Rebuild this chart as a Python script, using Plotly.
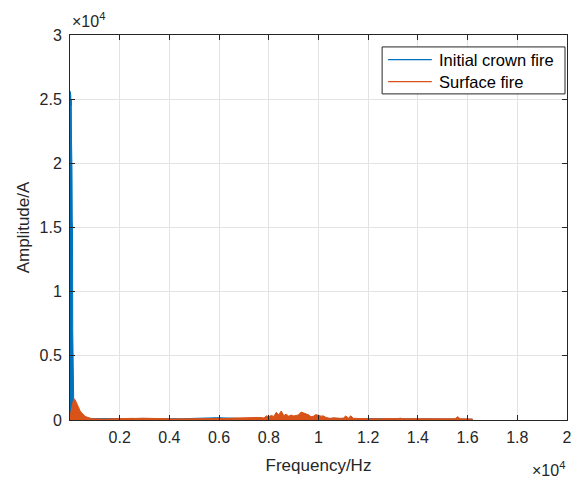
import plotly.graph_objects as go

# ---------------- data ----------------
# Initial crown fire: fine bins near 0 Hz (10 Hz spacing), then coarse bins
crown_freq_fine = list(range(0, 210, 10))
crown_amp_fine = [18000, 25600, 24800, 25300, 24500, 25000, 21800, 21000, 19500, 15500,
                  15000, 7000, 3100, 2400, 1800, 1300, 1000, 750, 550, 400, 300]
crown_freq_coarse = [300, 500, 1000, 1500, 2000, 2500, 3000, 3500, 4000, 4500, 5000, 5300,
                     5600, 5900, 6200, 6500, 7000, 7500, 8000, 9000, 10000, 11000,
                     12000, 13000, 14000, 15000, 16000, 16200]
crown_amp_coarse = [200, 150, 110, 100, 110, 120, 120, 110, 100, 100, 150, 170,
                    160, 180, 150, 120, 120, 130, 150, 150, 130, 110,
                    90, 80, 80, 80, 70, 60]

# Surface fire: 50 Hz bins up to 1 kHz, 100 Hz bins up to 16.2 kHz
surf_freq_low = list(range(0, 1000, 50))
surf_amp_low = [300, 800, 1300, 1650, 1600, 1350, 1100, 950, 750, 600,
                480, 380, 300, 250, 200, 160, 130, 110, 100, 90]
surf_freq_high = list(range(1000, 16300, 100))
surf_amp_high = [
    # 1000-1900
    80, 75, 70, 75, 70, 80, 75, 80, 90, 85,
    # 2000-2900
    100, 110, 130, 120, 140, 130, 120, 150, 130, 140,
    # 3000-3900
    140, 130, 150, 120, 140, 130, 120, 130, 110, 100,
    # 4000-4900
    80, 80, 85, 80, 75, 80, 90, 85, 80, 85,
    # 5000-5900
    90, 100, 95, 100, 110, 100, 90, 110, 100, 110,
    # 6000-6900
    110, 120, 110, 130, 120, 140, 150, 140, 160, 150,
    # 7000-7900
    170, 160, 180, 170, 190, 180, 200, 190, 150, 320,
    # 8000-8900
    260, 350, 280, 600, 400, 700, 350, 450, 300, 380,
    # 9000-9900
    320, 350, 400, 620, 550, 450, 400, 250, 300, 420,
    # 10000-10900
    350, 300, 320, 200, 150, 120, 180, 150, 130, 120,
    # 11000-11900
    150, 320, 140, 330, 130, 120, 140, 110, 120, 100,
    # 12000-12900
    100, 110, 90, 100, 120, 90, 100, 110, 90, 100,
    # 13000-13900
    110, 90, 100, 140, 90, 100, 90, 110, 90, 100,
    # 14000-14900
    90, 100, 110, 90, 100, 90, 100, 90, 110, 90,
    # 15000-15900
    100, 90, 100, 110, 90, 100, 260, 100, 90, 100,
    # 16000-16200
    90, 80, 70,
]

crown_freq = crown_freq_fine + crown_freq_coarse
crown_amp = crown_amp_fine + crown_amp_coarse
surf_freq = surf_freq_low + surf_freq_high
surf_amp = surf_amp_low + surf_amp_high

series_names = ["Initial crown fire", "Surface fire"]
x_tick_vals = [2000, 4000, 6000, 8000, 10000, 12000, 14000, 16000, 18000, 20000]
x_tick_text = ["0.2", "0.4", "0.6", "0.8", "1", "1.2", "1.4", "1.6", "1.8", "2"]
y_tick_vals = [0, 5000, 10000, 15000, 20000, 25000, 30000]
y_tick_text = ["0", "0.5", "1", "1.5", "2", "2.5", "3"]

BLUE = "#0072BD"
ORANGE = "#D95319"
AXC = "#262626"
FONT = "Liberation Sans, Arial, sans-serif"
FS = 16

fig = go.Figure()
fig.add_trace(go.Scatter(x=crown_freq, y=crown_amp, mode="lines", fill="tozeroy",
                         name=series_names[0],
                         line=dict(color=BLUE, width=1), fillcolor=BLUE,
                         showlegend=False, hoverinfo="skip"))
fig.add_trace(go.Scatter(x=surf_freq, y=surf_amp, mode="lines", fill="tozeroy",
                         name=series_names[1],
                         line=dict(color=ORANGE, width=1), fillcolor=ORANGE,
                         showlegend=False, hoverinfo="skip"))

axis_common = dict(showline=True, linecolor=AXC, linewidth=1, mirror="ticks",
                   ticks="inside", ticklen=5, tickcolor=AXC, showgrid=True,
                   gridcolor="#e3e3e3", gridwidth=1, zeroline=False,
                   ticklabeloverflow="allow", automargin=False,
                   tickfont=dict(family=FONT, size=FS, color=AXC))

# legend drawn as a box with sample lines and text (paper coordinates)
leg_box = dict(x0=0.628, x1=0.996, y0=0.847, y1=0.969)
leg_rows_y = [0.936, 0.879]
leg_line_x = [0.640, 0.728]
leg_text_x = 0.738
leg_colors = [BLUE, ORANGE]

shapes = [dict(type="rect", xref="paper", yref="paper", **leg_box,
               line=dict(color=AXC, width=1), fillcolor="white", layer="above")]
annotations = []
for name, col, yy in zip(series_names, leg_colors, leg_rows_y):
    shapes.append(dict(type="line", xref="paper", yref="paper",
                       x0=leg_line_x[0], x1=leg_line_x[1], y0=yy, y1=yy,
                       line=dict(color=col, width=1.3), layer="above"))
    annotations.append(dict(text=name, xref="paper", yref="paper", x=leg_text_x, y=yy,
                            xanchor="left", yanchor="middle", showarrow=False,
                            font=dict(family=FONT, size=16.5, color="black")))

annotations += [
    dict(text="×10<sup>4</sup>", xref="paper", yref="paper", x=0.0, y=1.0,
         xanchor="left", yanchor="bottom", showarrow=False, yshift=3,
         font=dict(family=FONT, size=FS, color=AXC)),
    dict(text="×10<sup>4</sup>", xref="paper", yref="paper", x=1.0, y=0.0,
         xanchor="right", yanchor="top", showarrow=False, yshift=-37,
         font=dict(family=FONT, size=FS, color=AXC)),
]

fig.update_layout(
    width=571, height=478,
    margin=dict(l=70, r=4, t=35, b=58),
    paper_bgcolor="white", plot_bgcolor="white",
    font=dict(family=FONT, size=FS, color=AXC),
    showlegend=False,
    xaxis=dict(range=[0, 20000], tickvals=x_tick_vals, ticktext=x_tick_text,
               ticklabelstandoff=3,
               title=dict(text="Frequency/Hz", font=dict(family=FONT, size=17, color=AXC), standoff=13),
               **axis_common),
    yaxis=dict(range=[0, 30000], tickvals=y_tick_vals, ticktext=y_tick_text,
               ticklabelstandoff=4,
               title=dict(text="Amplitude/A", font=dict(family=FONT, size=17, color=AXC), standoff=5),
               **axis_common),
    shapes=shapes,
    annotations=annotations,
)

fig.write_html("out.html", config={"displayModeBar": False},
               post_script="document.body.style.margin='0';document.body.style.overflow='hidden';")
